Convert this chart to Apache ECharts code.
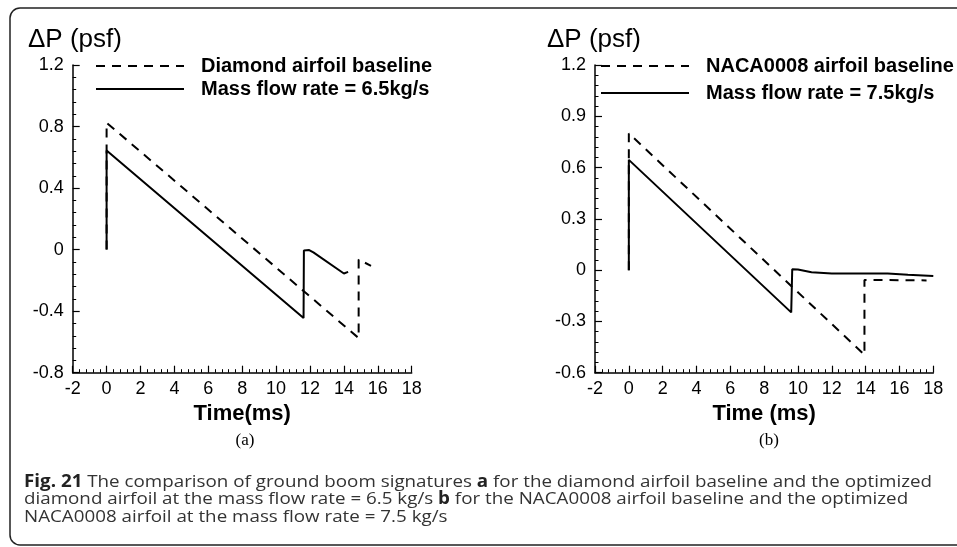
<!DOCTYPE html>
<html>
<head>
<meta charset="utf-8">
<script src="https://cdn.jsdelivr.net/npm/echarts@6/dist/echarts.min.js"></script>
<style>
html,body{margin:0;padding:0;background:#fff;}
#chart{width:957px;height:547px;}
</style>
</head>
<body>
<div id="chart"></div>
<script>
// ---- data ----
const xTicks = [-2, 0, 2, 4, 6, 8, 10, 12, 14, 16, 18];
const yTicksA = [-0.8, -0.4, 0, 0.4, 0.8, 1.2];
const yTicksB = [-0.6, -0.3, 0, 0.3, 0.6, 0.9, 1.2];

const nameBaseA = 'Diamond airfoil baseline';
const nameMassA = 'Mass flow rate = 6.5kg/s';
const nameBaseB = 'NACA0008 airfoil baseline';
const nameMassB = 'Mass flow rate = 7.5kg/s';

const baseA = [[0, 0], [0, 0.825], [14.87, -0.575], [14.87, -0.065], [15.6, -0.105]];
const massA = [[0, 0], [0, 0.645], [11.62, -0.445], [11.64, -0.005], [11.75, 0.0], [11.95, -0.003],
               [12.2, -0.018], [14.0, -0.155], [14.1, -0.16], [14.25, -0.145]];
const baseB = [[0, 0], [0, 0.8], [13.93, -0.495], [13.93, -0.057], [17.6, -0.06]];
const massB = [[0, 0], [0, 0.645], [9.6, -0.247], [9.66, 0.005], [10.0, 0.004], [10.8, -0.012],
               [12.0, -0.019], [15.3, -0.02], [16.5, -0.027], [18.0, -0.035]];

const yTitle = 'ΔP (psf)';
const xTitleA = 'Time(ms)';
const xTitleB = 'Time (ms)';
const panelA = '(a)';
const panelB = '(b)';
const capLines = [
  '{b|Fig. 21} The comparison of ground boom signatures {b|a} for the diamond airfoil baseline and the optimized',
  'diamond airfoil at the mass flow rate = 6.5 kg/s {b|b} for the NACA0008 airfoil baseline and the optimized',
  'NACA0008 airfoil at the mass flow rate = 7.5 kg/s'
];

// ---- helpers ----
const FONT = '"Liberation Sans", Arial, sans-serif';
const CAPFONT = '"Open Sans", "Noto Sans", sans-serif';

function measureRich(str, size) {
  const c = document.createElement('canvas').getContext('2d');
  let w = 0;
  const parts = str.split(/(\{b\|[^}]*\})/);
  parts.forEach(p => {
    if (!p) return;
    const m = p.match(/^\{b\|([^}]*)\}$/);
    if (m) { c.font = 'bold ' + size + 'px ' + CAPFONT; w += c.measureText(m[1]).width; }
    else { c.font = size + 'px ' + CAPFONT; w += c.measureText(p).width; }
  });
  return w;
}
const capSize = 17;
const capScale = 908 / measureRich(capLines[0], capSize);

function xAxisCfg(gridIndex, title) {
  return {
    type: 'value', gridIndex: gridIndex,
    min: xTicks[0], max: xTicks[xTicks.length - 1], interval: xTicks[1] - xTicks[0],
    name: title, nameLocation: 'middle', nameGap: 21,
    nameTextStyle: { fontFamily: FONT, fontWeight: 'bold', fontSize: 22, color: '#000' },
    axisLine: { onZero: false, lineStyle: { color: '#000', width: 1.5 } },
    axisTick: { inside: true, length: 7, lineStyle: { color: '#000', width: 1.2 } },
    minorTick: { show: true, splitNumber: 5, length: 3.5, lineStyle: { color: '#000', width: 1 } },
    axisLabel: { fontFamily: FONT, fontSize: 18, color: '#000', margin: 7 },
    splitLine: { show: false }
  };
}
function yAxisCfg(gridIndex, ticks) {
  return {
    type: 'value', gridIndex: gridIndex,
    min: ticks[0], max: ticks[ticks.length - 1], interval: +(ticks[1] - ticks[0]).toFixed(6),
    axisLine: { onZero: false, lineStyle: { color: '#000', width: 1.5 } },
    axisTick: { inside: true, length: 7, lineStyle: { color: '#000', width: 1.2 } },
    minorTick: { show: true, splitNumber: 5, length: 3.5, lineStyle: { color: '#000', width: 1 } },
    axisLabel: { fontFamily: FONT, fontSize: 18, color: '#000', margin: 9,
                 formatter: v => String(+v.toFixed(2)) },
    splitLine: { show: false }
  };
}
function lineSeries(name, data, xi, dashed) {
  return {
    name: name, type: 'line', xAxisIndex: xi, yAxisIndex: xi, data: data,
    symbol: 'none', showSymbol: false, silent: true, z: dashed ? 2 : 3,
    itemStyle: { color: '#000', opacity: 0 },
    lineStyle: { color: '#000', width: 2, type: dashed ? [9, 7] : 'solid' }
  };
}
function legendCfg(names, left, gap) {
  return {
    data: names, orient: 'vertical', left: left, top: 56, padding: 0,
    itemWidth: 88, itemHeight: 14, itemGap: gap, selectedMode: false,
    itemStyle: { opacity: 0, borderWidth: 0 },
    textStyle: { fontFamily: FONT, fontWeight: 'bold', fontSize: 20, color: '#000', padding: [0, 0, 0, 12] }
  };
}

const chart = echarts.init(document.getElementById('chart'), null, { renderer: 'canvas' });
chart.setOption({
  animation: false,
  backgroundColor: '#fff',
  grid: [
    { left: 72.7, top: 65, width: 339, height: 307.7, containLabel: false },
    { left: 595, top: 65, width: 338.3, height: 307.7, containLabel: false }
  ],
  xAxis: [xAxisCfg(0, xTitleA), xAxisCfg(1, xTitleB)],
  yAxis: [yAxisCfg(0, yTicksA), yAxisCfg(1, yTicksB)],
  legend: [legendCfg([nameBaseA, nameMassA], 95, 3), legendCfg([nameBaseB, nameMassB], 600, 7)],
  title: [
    { text: yTitle, left: 28, top: 27, padding: 0,
      textStyle: { fontFamily: FONT, fontWeight: 'normal', fontSize: 26, color: '#000' } },
    { text: yTitle, left: 547, top: 27, padding: 0,
      textStyle: { fontFamily: FONT, fontWeight: 'normal', fontSize: 26, color: '#000' } }
  ],
  series: [
    lineSeries(nameBaseA, baseA, 0, true),
    lineSeries(nameMassA, massA, 0, false),
    lineSeries(nameBaseB, baseB, 1, true),
    lineSeries(nameMassB, massB, 1, false)
  ],
  graphic: [
    { type: 'rect', silent: true, z: 0,
      shape: { x: 10, y: 8, width: 970, height: 537, r: 10 },
      style: { fill: null, stroke: '#222', lineWidth: 1.5 } },
    { type: 'text', x: 245, y: 441, silent: true,
      style: { text: panelA, font: '17px "Liberation Serif", serif', fill: '#000',
               align: 'center', verticalAlign: 'middle' } },
    { type: 'text', x: 769, y: 441, silent: true,
      style: { text: panelB, font: '17px "Liberation Serif", serif', fill: '#000',
               align: 'center', verticalAlign: 'middle' } }
  ].concat(capLines.map((t, i) => ({
    type: 'text', x: 24, y: [481.7, 499.2, 516.7][i], scaleX: capScale, silent: true,
    style: { text: t, fontFamily: CAPFONT, fontSize: capSize, fill: '#333',
             verticalAlign: 'middle', align: 'left',
             rich: { b: { fontFamily: CAPFONT, fontSize: capSize, fontWeight: 'bold', fill: '#222', verticalAlign: 'middle' } } }
  })))
});
</script>
</body>
</html>
